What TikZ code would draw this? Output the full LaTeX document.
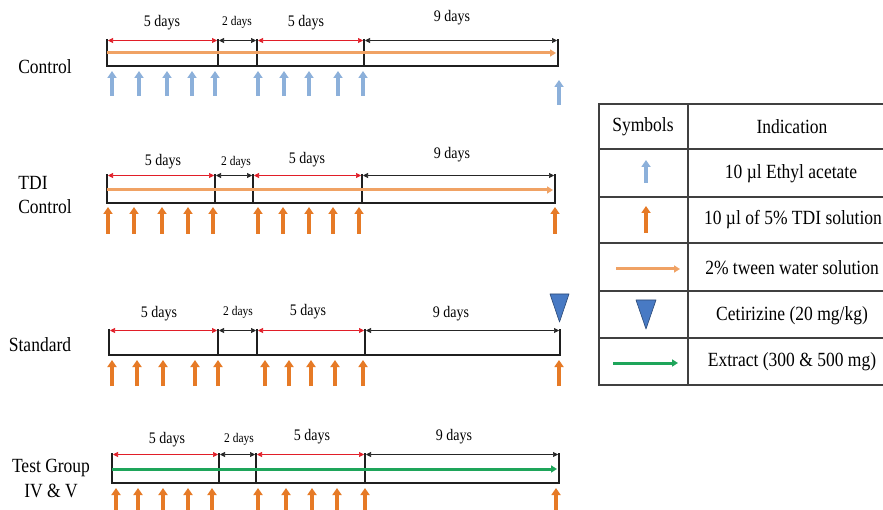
\documentclass[tikz,border=0pt]{standalone}
\usepackage{fontspec}
\setmainfont{Liberation Serif}
\usepackage{graphicx}
\usetikzlibrary{arrows.meta}
\definecolor{ablue}{RGB}{140,176,218}
\definecolor{aorange}{RGB}{230,122,38}
\definecolor{tween}{RGB}{240,162,100}
\definecolor{agreen}{RGB}{30,165,90}
\definecolor{tblue}{RGB}{72,122,196}
\definecolor{sred}{RGB}{225,30,40}
\newcommand{\vs}[1]{\scalebox{1}[1.15]{#1}}
\newcommand{\tline}[8]{%
  \foreach \i/\xx in {1/#4,2/#5,3/#6,4/#7,5/#8} {%
    \coordinate (#1t\i) at (\xx,#2);
    \coordinate (#1b\i) at (\xx,#3);
    \coordinate (#1s\i) at (\xx,{#2+1.5});
  }
  \draw[frame] (#1t1) -- (#1b1) -- (#1b5) -- (#1t5);
  \foreach \i in {2,3,4} {\draw[frame] (#1t\i) -- (#1b\i);}
  \draw[redspan] (#1s1) -- (#1s2);
  \draw[blackspan] (#1s2) -- (#1s3);
  \draw[redspan] (#1s3) -- (#1s4);
  \draw[blackspan] (#1s4) -- (#1s5);
}
\tikzset{
  frame/.style={line width=2pt, draw=black!88, line join=miter},
  redspan/.style={draw=sred, line width=0.7pt, shorten <=1pt, shorten >=1pt,
     {Triangle[length=5pt,width=5pt]}-{Triangle[length=5pt,width=5pt]}},
  blackspan/.style={draw=black!85, line width=0.7pt, shorten <=1pt, shorten >=1pt,
     {Triangle[length=5pt,width=5pt]}-{Triangle[length=5pt,width=5pt]}},
  bluearr/.style={draw=ablue, line width=3.5pt, -{Triangle[length=7pt,width=9pt]}},
  orarr/.style={draw=aorange, line width=3.5pt, -{Triangle[length=7pt,width=9pt]}},
  tweenline/.style={draw=tween, line width=3pt, -{Triangle[length=6pt,width=7pt]}},
  greenline/.style={draw=agreen, line width=3pt, -{Triangle[length=6pt,width=7pt]}},
  daylbl/.style={font=\fontsize{14}{14}\selectfont, inner sep=0pt},
  smalllbl/.style={font=\fontsize{11.5}{12}\selectfont, inner sep=0pt},
  grplbl/.style={font=\fontsize{17.5}{18}\selectfont, inner sep=0pt},
  tbltxt/.style={font=\fontsize{17.5}{18}\selectfont, inner sep=0pt},
  grid/.style={draw=black!75, line width=1.2pt},
  cetri/.style={fill=tblue, draw=tblue!60!black, line width=0.6pt, line join=round},
}
\begin{document}
\begin{tikzpicture}[x=1pt,y=-1pt]
\clip (0,0) rectangle (883,510);
\fill[white] (0,0) rectangle (883,510);

% ---------- Row 1: Control ----------
\node[grplbl] (lblc) at (45,67) {\vs{Control}};
\tline{c}{39}{66}{107}{218}{257}{364}{558}
\coordinate (cl0) at (107,53); \coordinate (cl1) at (556,53);
\draw[tweenline] (cl0) -- (cl1);
\node[daylbl] (cd1) at (162,23) {\vs{5 days}};
\node[smalllbl] (cd2) at (237,22) {\vs{2 days}};
\node[daylbl] (cd3) at (306,23) {\vs{5 days}};
\node[daylbl] (cd4) at (452,18) {\vs{9 days}};
\foreach \xx in {112,139,167,192,215,258,284,309,338,363} {\draw[bluearr] (\xx,96) -- (\xx,71);}
\draw[bluearr] (559,105) -- (559,80);

% ---------- Row 2: TDI Control ----------
\node[grplbl] (lblt1) at (33,183) {\vs{TDI}};
\node[grplbl] (lblt2) at (45,207) {\vs{Control}};
\tline{t}{174}{203}{107}{215}{253}{362}{555}
\coordinate (tl0) at (107,190); \coordinate (tl1) at (553,190);
\draw[tweenline] (tl0) -- (tl1);
\node[daylbl] (td1) at (163,162) {\vs{5 days}};
\node[smalllbl] (td2) at (236,162) {\vs{2 days}};
\node[daylbl] (td3) at (307,160) {\vs{5 days}};
\node[daylbl] (td4) at (452,155) {\vs{9 days}};
\foreach \xx in {108,134,162,188,213,258,283,309,333,359,555} {\draw[orarr] (\xx,234) -- (\xx,207);}

% ---------- Row 3: Standard ----------
\node[grplbl] (lbls) at (40,345) {\vs{Standard}};
\tline{s}{329}{355}{109}{218}{257}{365}{560}
\node[daylbl] (sd1) at (159,314) {\vs{5 days}};
\node[smalllbl] (sd2) at (238,312) {\vs{2 days}};
\node[daylbl] (sd3) at (308,312) {\vs{5 days}};
\node[daylbl] (sd4) at (451,314) {\vs{9 days}};
\draw[cetri] (550,294) -- (569,294) -- (559.5,322) -- cycle;
\foreach \xx in {112,137,163,195,218,265,289,311,335,363,559} {\draw[orarr] (\xx,386) -- (\xx,360);}

% ---------- Row 4: Test Group ----------
\node[grplbl] (lblg1) at (51,468) {\vs{Test Group}};
\node[grplbl] (lblg2) at (51,491) {\vs{IV \& V}};
\tline{g}{453}{483}{112}{219}{256}{365}{559}
\coordinate (gl0) at (112,469); \coordinate (gl1) at (557,469);
\draw[greenline] (gl0) -- (gl1);
\node[daylbl] (gd1) at (167,440) {\vs{5 days}};
\node[smalllbl] (gd2) at (239,439) {\vs{2 days}};
\node[daylbl] (gd3) at (312,437) {\vs{5 days}};
\node[daylbl] (gd4) at (454,437) {\vs{9 days}};
\foreach \xx in {116,138,163,188,212,258,286,312,337,365,556} {\draw[orarr] (\xx,513) -- (\xx,488);}

% ---------- Legend table ----------
\draw[grid] (599,104) rectangle (900,385);
\foreach \yy in {149,197,243,291,338} {\draw[grid] (599,\yy) -- (900,\yy);}
\draw[grid] (688,104) -- (688,385);
\node[tbltxt] (hsym) at (643,127) {\vs{Symbols}};
\node[tbltxt] (hind) at (792,127) {\vs{Indication}};
\draw[bluearr] (646,183) -- (646,160);
\node[tbltxt] (i1) at (791,174) {\vs{10 µl Ethyl acetate}};
\draw[orarr] (646,233) -- (646,206);
\node[tbltxt] (i2) at (793,220) {\vs{10 µl of 5\% TDI solution}};
\coordinate (lt0) at (616,269); \coordinate (lt1) at (680,269);
\draw[tweenline] (lt0) -- (lt1);
\node[tbltxt] (i3) at (792,268) {\vs{2\% tween water solution}};
\draw[cetri] (636,300) -- (656,300) -- (646,329) -- cycle;
\node[tbltxt] (i4) at (792,316) {\vs{Cetirizine (20 mg/kg)}};
\coordinate (lg0) at (613,363); \coordinate (lg1) at (678,363);
\draw[greenline] (lg0) -- (lg1);
\node[tbltxt] (i5) at (792,362) {\vs{Extract (300 \& 500 mg)}};
\end{tikzpicture}
\end{document}
